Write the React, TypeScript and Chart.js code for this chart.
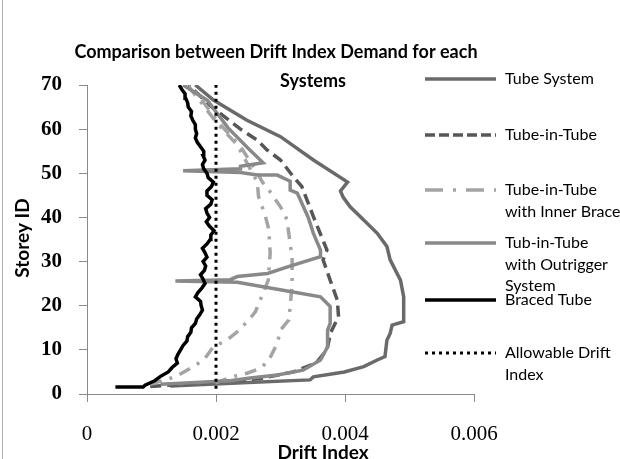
import { useEffect, useRef } from 'react';
import { Chart, registerables } from 'chart.js';

Chart.register(...registerables);

// ---------- axis ticks ----------
const xTickValues = [0, 0.002, 0.004, 0.006];
const xTickLabels = ['0', '0.002', '0.004', '0.006'];
const yTickValues = [0, 10, 20, 30, 40, 50, 60, 70];
const yTickLabels = ['0', '10', '20', '30', '40', '50', '60', '70'];

const titleLines = ['Comparison between Drift Index Demand for each', 'Systems'];
const xAxisTitle = 'Drift Index';
const yAxisTitle = 'Storey ID';

// ---------- series (storey, drift index) ----------
const tubeSystemStorey = [1.8, 2.6, 3.2, 3.9, 5, 6.2, 7.7, 8.5, 12.2, 13.7, 15.6, 16.4, 22, 25.8, 30.4, 33.4, 36.4, 39.4, 42.4, 44.6, 46, 48, 53, 58.3, 62, 66.6, 70];
const tubeSystemDrift = [0.00129, 0.0025, 0.00346, 0.00351, 0.00399, 0.00429, 0.0045, 0.00462, 0.00465, 0.0047, 0.00473, 0.00491, 0.00491, 0.00486, 0.0047, 0.00465, 0.0045, 0.00429, 0.00408, 0.00397, 0.00393, 0.00404, 0.00351, 0.003, 0.00248, 0.00196, 0.00168];

const tubeInTubeStorey = [1.7, 2.5, 3.5, 5, 7, 10, 14, 17.5, 21.3, 25.8, 30.4, 32.6, 40.2, 47, 49.2, 53, 55.3, 57.5, 60, 65, 70];
const tubeInTubeDrift = [0.00098, 0.00176, 0.00269, 0.0032, 0.00355, 0.00372, 0.00378, 0.0039, 0.00388, 0.00377, 0.00366, 0.00372, 0.00351, 0.00333, 0.0032, 0.003, 0.00279, 0.00264, 0.00238, 0.00194, 0.00157];

const innerBraceAStorey = [2.2, 3.9, 5.8, 7.7, 10.7, 12.2, 14.1, 16.8, 18.6, 23.2, 25.8, 31.9, 37.2, 40.6, 44.7, 48, 56.4, 61.3, 70];
const innerBraceADrift = [0.00098, 0.00137, 0.0016, 0.00181, 0.00196, 0.00217, 0.00233, 0.00251, 0.00261, 0.00274, 0.00281, 0.00284, 0.00282, 0.00276, 0.00266, 0.00264, 0.00233, 0.00202, 0.00156];

const innerBraceBStorey = [2.5, 3.9, 4.7, 5.8, 7.7, 11.5, 14.5, 16.8, 19.8, 25, 31, 34, 39.5, 42.4, 45.8, 48, 52, 56, 61, 70];
const innerBraceBDrift = [0.00199, 0.00225, 0.00248, 0.00269, 0.00282, 0.00295, 0.003, 0.00313, 0.00315, 0.00318, 0.00318, 0.00315, 0.0031, 0.003, 0.00284, 0.00272, 0.00256, 0.00238, 0.00207, 0.0016];

const outriggerStorey = [2.2, 3, 3.6, 4.3, 5.4, 7.7, 10.7, 14.5, 16, 19.8, 22, 23.2, 25.3, 25.6, 25.9, 26.6, 27.3, 28.8, 30.4, 31.1, 32.6, 36.4, 40, 45.5, 46.2, 48.2, 49.6, 49.6, 50.2, 50.6, 51, 51.6, 52.4, 55.8, 60.4, 66.5, 70];
const outriggerDrift = [0.00114, 0.00222, 0.00253, 0.00295, 0.00335, 0.00362, 0.00373, 0.00373, 0.00377, 0.00377, 0.00362, 0.00315, 0.00233, 0.00137, 0.00222, 0.00233, 0.0028, 0.00311, 0.00346, 0.00362, 0.00362, 0.00351, 0.00343, 0.00326, 0.00315, 0.00315, 0.00295, 0.00264, 0.00238, 0.00149, 0.00238, 0.00238, 0.00273, 0.00249, 0.00218, 0.00187, 0.00149];

const bracedTubeStorey = [1.6, 1.6, 2, 3, 4, 5, 6, 7, 8, 9, 10, 11, 12, 13, 14, 15, 16, 17, 18, 19, 20, 21, 22, 23, 24, 25, 26, 27, 28, 29, 30, 31, 32, 33, 34, 35, 36, 37, 38, 39, 40, 41, 42, 43, 44, 45, 46, 47, 48, 49, 50, 51, 52, 53, 54, 55, 56, 57, 58, 59, 60, 61, 62, 63, 64, 65, 66, 67, 68, 69, 70];
const bracedTubeDrift = [0.00044, 0.00087, 0.0009, 0.00105, 0.00114, 0.00126, 0.00132, 0.0014, 0.00138, 0.00141, 0.00145, 0.00149, 0.00155, 0.00156, 0.00161, 0.00162, 0.00168, 0.0017, 0.00175, 0.00179, 0.00177, 0.00176, 0.00168, 0.00172, 0.00178, 0.00183, 0.0018, 0.00176, 0.00182, 0.00184, 0.0018, 0.00186, 0.00183, 0.00179, 0.00186, 0.00191, 0.00192, 0.00197, 0.0019, 0.00185, 0.0019, 0.00186, 0.00184, 0.00192, 0.00194, 0.00186, 0.00186, 0.00193, 0.00196, 0.00188, 0.00186, 0.00181, 0.00179, 0.00183, 0.0018, 0.00181, 0.00176, 0.00171, 0.00168, 0.0017, 0.00168, 0.00168, 0.00164, 0.00161, 0.00162, 0.00157, 0.00156, 0.00153, 0.00152, 0.00147, 0.00143];

const allowableStorey = [1.2, 70];
const allowableDrift = [0.002, 0.002];

const legendTexts = [
  ['Tube System'],
  ['Tube-in-Tube'],
  ['Tube-in-Tube', 'with Inner Brace'],
  ['Tub-in-Tube', 'with Outrigger', 'System'],
  ['Braced Tube'],
  ['Allowable Drift', 'Index'],
];

const toPoints = (storey: number[], drift: number[]) =>
  storey.map((s, i) => ({ x: drift[i], y: s }));

const C_TUBE = '#6a6a6a';
const C_TIT = '#575757';
const C_BRACE = '#a4a4a4';
const C_OUT = '#898989';

const legendStyles = [
  { color: C_TUBE, width: 3.5, dash: [] as number[] },
  { color: C_TIT, width: 3.5, dash: [10, 4] },
  { color: C_BRACE, width: 3.5, dash: [18, 10, 3, 10] },
  { color: C_OUT, width: 3.5, dash: [] as number[] },
  { color: '#000000', width: 3.5, dash: [] as number[] },
  { color: '#000000', width: 3, dash: [3, 4] },
];
const legendY = [79, 135, 190, 243, 300, 353];

const decorPlugin = {
  id: 'decor',
  afterDraw(chart: any) {
    const ctx = chart.ctx as CanvasRenderingContext2D;
    ctx.save();
    ctx.strokeStyle = '#b0b0b0';
    ctx.lineWidth = 1;
    ctx.beginPath();
    ctx.moveTo(2.5, 0);
    ctx.lineTo(2.5, 459);
    ctx.stroke();

    ctx.fillStyle = '#000';
    ctx.font = 'bold 18px Lato';
    ctx.textAlign = 'center';
    ctx.textBaseline = 'middle';
    ctx.fillText(titleLines[0], 276, 52);
    ctx.fillText(titleLines[1], 313, 81);

    ctx.font = 'bold 19px Lato';
    ctx.textBaseline = 'alphabetic';
    ctx.fillText(xAxisTitle, 323, 459);
    ctx.save();
    ctx.translate(29, 238);
    ctx.rotate(-Math.PI / 2);
    ctx.fillText(yAxisTitle, 0, 0);
    ctx.restore();

    ctx.textAlign = 'left';
    ctx.textBaseline = 'middle';
    ctx.font = '16px Lato';
    legendTexts.forEach((lines, i) => {
      const st = legendStyles[i];
      const y = legendY[i];
      ctx.strokeStyle = st.color;
      ctx.lineWidth = st.width;
      ctx.setLineDash(st.dash);
      ctx.beginPath();
      ctx.moveTo(425, y);
      ctx.lineTo(496, y);
      ctx.stroke();
      ctx.setLineDash([]);
      lines.forEach((t, j) => ctx.fillText(t, 505, y + j * 21.5));
    });
    ctx.restore();
  },
};

export default function App() {
  const ref = useRef<HTMLCanvasElement>(null);
  useEffect(() => {
    if (!ref.current) return;
    const common = { pointRadius: 0, pointHoverRadius: 0, showLine: true, tension: 0, fill: false };
    const chart = new Chart(ref.current, {
      type: 'scatter',
      data: {
        datasets: [
          { ...common, label: 'Allowable Drift Index', data: toPoints(allowableStorey, allowableDrift), borderColor: '#000', borderWidth: 3, borderDash: [3, 4], order: 0 },
          { ...common, label: 'Braced Tube', data: toPoints(bracedTubeStorey, bracedTubeDrift), borderColor: '#000', borderWidth: 3.5, order: 1 },
          { ...common, label: 'Tub-in-Tube with Outrigger System', data: toPoints(outriggerStorey, outriggerDrift), borderColor: C_OUT, borderWidth: 3.5, order: 2 },
          { ...common, label: 'Tube-in-Tube with Inner Brace', data: toPoints(innerBraceAStorey, innerBraceADrift), borderColor: C_BRACE, borderWidth: 3.5, borderDash: [12, 8, 3, 8], order: 3 },
          { ...common, label: 'Tube-in-Tube with Inner Brace (2)', data: toPoints(innerBraceBStorey, innerBraceBDrift), borderColor: C_BRACE, borderWidth: 3.5, borderDash: [12, 8, 3, 8], order: 3 },
          { ...common, label: 'Tube-in-Tube', data: toPoints(tubeInTubeStorey, tubeInTubeDrift), borderColor: C_TIT, borderWidth: 3.5, borderDash: [11, 6], order: 4 },
          { ...common, label: 'Tube System', data: toPoints(tubeSystemStorey, tubeSystemDrift), borderColor: C_TUBE, borderWidth: 3.5, order: 5 },
        ],
      },
      options: {
        animation: false,
        responsive: false,
        events: [],
        layout: { padding: { top: 85, right: 146, left: 0, bottom: 0 } },
        plugins: { legend: { display: false }, title: { display: false }, tooltip: { enabled: false } },
        scales: {
          x: {
            type: 'linear',
            min: 0,
            max: 0.006,
            afterFit: (s: any) => { s.height = 65; },
            afterBuildTicks: (s: any) => { s.ticks = xTickValues.map((v) => ({ value: v })); },
            grid: { display: true, drawOnChartArea: false, drawTicks: true, tickLength: 8, color: '#898989' },
            border: { display: true, color: '#898989', width: 1 },
            ticks: {
              color: '#000',
              padding: 20,
              maxRotation: 0,
              font: { family: 'Liberation Serif', size: 21 },
              callback: (v: any) => xTickLabels[xTickValues.findIndex((t) => Math.abs(t - v) < 1e-9)] ?? '',
            },
          },
          y: {
            type: 'linear',
            min: 0,
            max: 70,
            afterFit: (s: any) => { s.width = 87; },
            afterBuildTicks: (s: any) => { s.ticks = yTickValues.map((v) => ({ value: v })); },
            grid: { display: true, drawOnChartArea: false, drawTicks: true, tickLength: 8, color: '#898989' },
            border: { display: true, color: '#898989', width: 1 },
            ticks: {
              color: '#000',
              padding: 17,
              font: { family: 'Liberation Serif', size: 21, weight: 'bold' },
              callback: (v: any) => yTickLabels[yTickValues.indexOf(v)] ?? '',
            },
          },
        },
      },
      plugins: [decorPlugin],
    } as any);
    return () => chart.destroy();
  }, []);
  return (
    <div style={{ position: 'fixed', left: 0, top: 0, width: 620, height: 459, background: '#fff' }}>
      <canvas ref={ref} width={620} height={459} style={{ display: 'block' }} />
    </div>
  );
}
